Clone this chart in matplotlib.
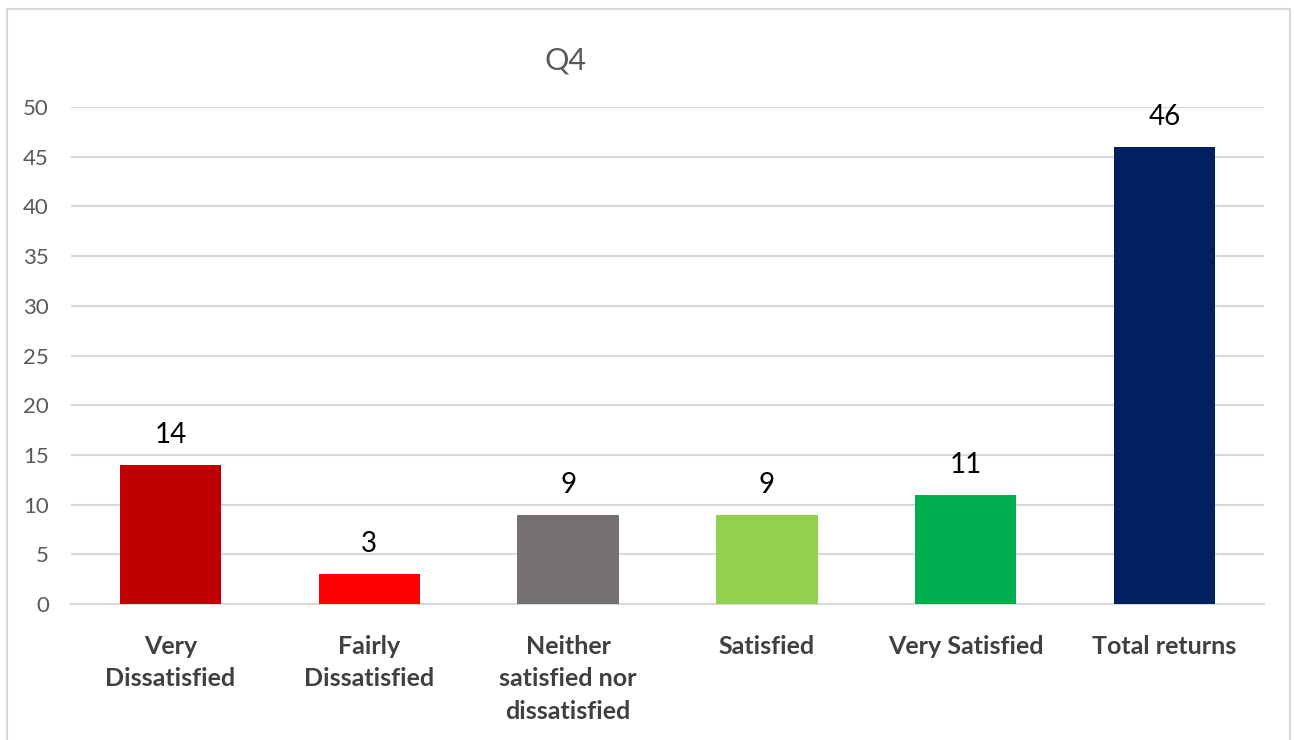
import matplotlib.pyplot as plt
from matplotlib.patches import Rectangle

categories = ["Very\nDissatisfied", "Fairly\nDissatisfied", "Neither\nsatisfied nor\ndissatisfied",
              "Satisfied", "Very Satisfied", "Total returns"]
values = [14, 3, 9, 9, 11, 46]
colors = ["#C00000", "#FF0000", "#767171", "#92D050", "#00B050", "#002060"]
yticks = list(range(0, 51, 5))

plt.rcParams['font.family'] = ['Lato', 'DejaVu Sans']

fig = plt.figure(figsize=(12.95, 7.4), dpi=100)
ax = fig.add_axes([71 / 1295, 1 - 604 / 740, (1264 - 71) / 1295, (604 - 107) / 740])

x = range(len(categories))
bars = ax.bar(x, values, width=0.51, color=colors, zorder=3)
for b, v in zip(bars, values):
    ax.text(b.get_x() + b.get_width() / 2, v + 3.0, str(v), ha="center", va="center",
            fontsize=20, color="#000000")

ax.set_xlim(-0.5, len(categories) - 0.5)
ax.set_ylim(0, 50)
ax.set_yticks(yticks)
ax.set_xticks(list(x))
ax.set_xticklabels(categories, fontsize=18, fontweight="bold", color="#404040", linespacing=1.5)
ax.tick_params(axis="x", length=0, pad=22)
ax.tick_params(axis="y", length=0, pad=16, labelsize=16, labelcolor="#595959")
ax.grid(axis="y", color="#D9D9D9", linewidth=1.5, zorder=0)
for s in ["top", "right", "left"]:
    ax.spines[s].set_visible(False)
ax.spines["bottom"].set_color("#D9D9D9")
ax.spines["bottom"].set_linewidth(1.5)

fig.text(565 / 1295, 1 - 60 / 740, "Q4", ha="center", va="center", fontsize=22, color="#595959")

# outer chart border
fig.patches.append(Rectangle((7 / 1295, -0.05), (1290 - 7) / 1295, 1.05 - 9 / 740,
                             transform=fig.transFigure, fill=False, edgecolor="#D9D9D9",
                             linewidth=1.5))

fig.savefig("out.png", dpi=100)
